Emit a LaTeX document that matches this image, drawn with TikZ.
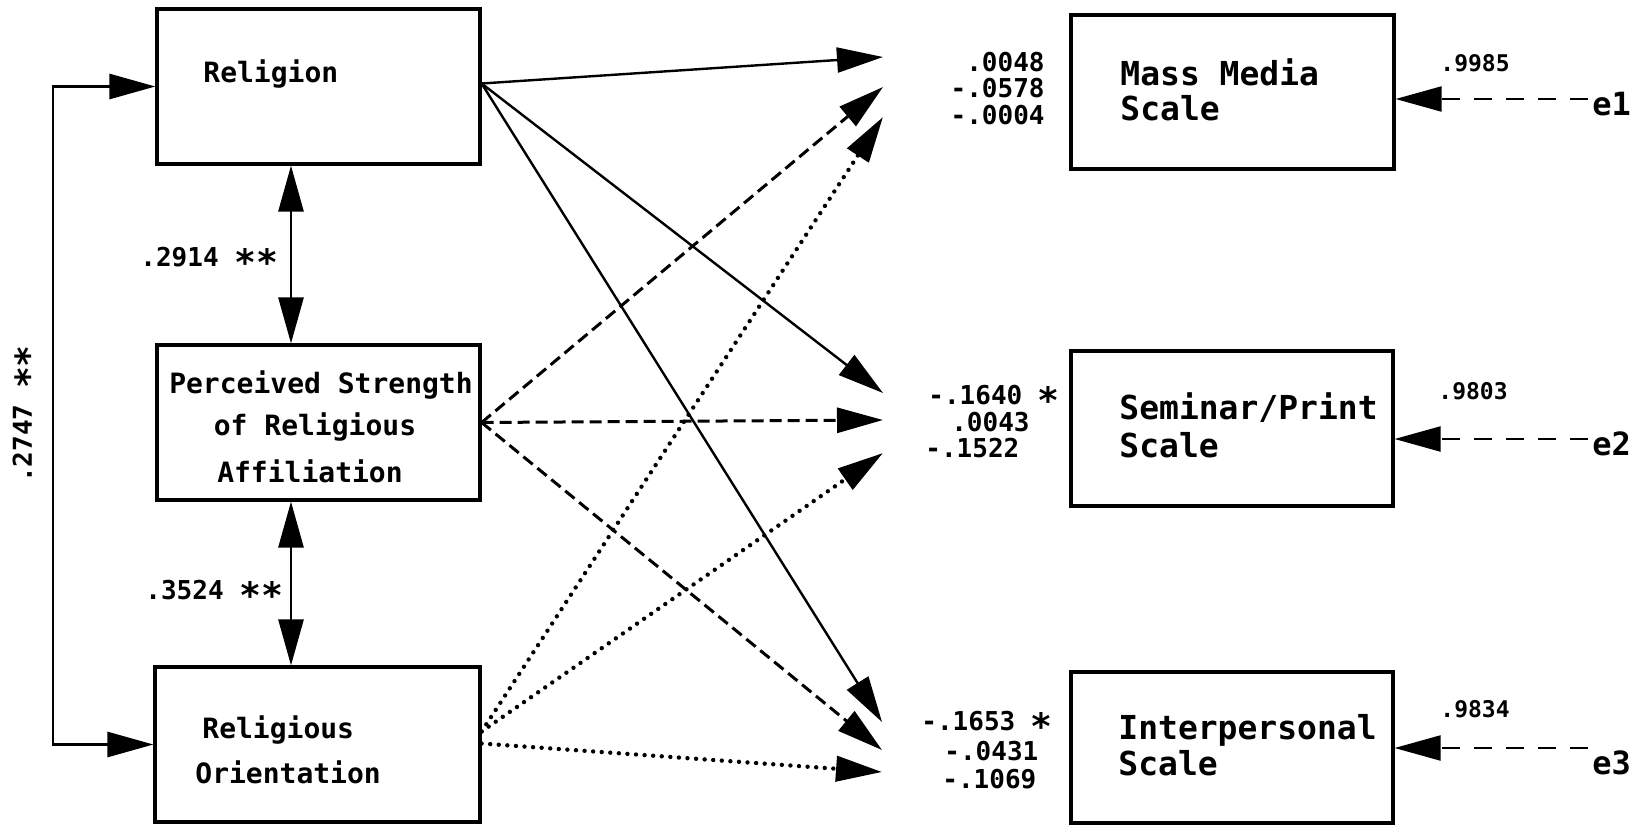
\documentclass[tikz,border=0pt]{standalone}
\usepackage{fontspec}
\usepackage{graphicx}
\newfontfamily\plotfont{DejaVu Sans Mono}
\newcommand{\sig}{\raisebox{-0.36em}{\scalebox{1.4}{*}}}
\usetikzlibrary{arrows.meta,calc}
\tikzset{
  >={Triangle[length=23pt,width=12.5pt]},
  box/.style={draw, line width=1.6pt, inner sep=0pt, minimum width=161.5pt, minimum height=77.5pt},
  boxtxt/.style={inner sep=0pt, font=\plotfont\bfseries\fontsize{14pt}{16pt}\selectfont},
  scaletxt/.style={inner sep=0pt, font=\plotfont\bfseries\fontsize{16.5pt}{18pt}\selectfont},
  coef/.style={inner sep=0pt, font=\plotfont\bfseries\fontsize{13pt}{15pt}\selectfont},
  resid/.style={inner sep=0pt, font=\plotfont\bfseries\fontsize{11.5pt}{13pt}\selectfont},
  errname/.style={inner sep=0pt, font=\plotfont\bfseries\fontsize{16pt}{18pt}\selectfont},
  effsolid/.style={line width=1.2pt, ->},
  effdash/.style={line width=1.5pt, dash pattern=on 6pt off 3pt, ->},
  effdot/.style={line width=2.2pt, line cap=round, dash pattern=on 0pt off 4.3pt, ->},
  corr/.style={line width=1.4pt, <->},
  errpath/.style={line width=1.1pt, dash pattern=on 9pt off 7pt, ->},
}
\begin{document}
\begin{tikzpicture}[x=0.5pt,y=-0.5pt]
\fill[white] (0,0) rectangle (1635,825);
\useasboundingbox (0,0) rectangle (1635,825);

% predictor boxes
\node[box] (rel)  at (318.5,86.5) {};
\node[box] (psra) at (318.5,422.5) {};
\node[box, minimum width=162.5pt] (ro) at (317.5,744.5) {};

\node[boxtxt, anchor=base west] (reltxt) at (203,82) {Religion};
\node[boxtxt, anchor=base] (psra1) at (321,393) {Perceived Strength};
\node[boxtxt, anchor=base] (psra2) at (315,435) {of Religious};
\node[boxtxt, anchor=base] (psra3) at (310,482) {Affiliation};
\node[boxtxt, anchor=base west] (ro1) at (202,738) {Religious};
\node[boxtxt, anchor=base west] (ro2) at (195,783) {Orientation};

% outcome boxes
\node[box, minimum height=77pt] (mm) at (1232.5,92) {};
\node[box, minimum width=161pt] (sp) at (1232,428.5) {};
\node[box, minimum width=161pt, minimum height=75.5pt] (ip) at (1232,747.5) {};

\node[scaletxt, anchor=base west] (mm1t) at (1120,85) {Mass Media};
\node[scaletxt, anchor=base west] (mm2t) at (1120,120) {Scale};
\node[scaletxt, anchor=base west] (sp1t) at (1119,419) {Seminar/Print};
\node[scaletxt, anchor=base west] (sp2t) at (1119,457) {Scale};
\node[scaletxt, anchor=base west] (ip1t) at (1118,739) {Interpersonal};
\node[scaletxt, anchor=base west] (ip2t) at (1118,775) {Scale};

% correlations among predictors
\coordinate (ax) at (291,0);
\coordinate (lx) at (53,400);
\draw[corr] (rel.south -| ax) -- (psra.north -| ax);
\draw[corr] (psra.south -| ax) -- (ro.north -| ax);
\draw[corr] (rel.west) -| (lx) |- (ro.west);
\node[coef, anchor=base west] (c12) at (140,266.5) {.2914 \sig\sig};
\node[coef, anchor=base west] (c23) at (145,599.5) {.3524 \sig\sig};
\node[coef, rotate=90] (c13) at (27,414) {.2747 \sig\sig};

% arrow ends in front of each outcome
\coordinate (mmA) at (883,57);
\coordinate (mmB) at (883,87);
\coordinate (mmC) at (883,117);
\coordinate (spA) at (883,393);
\coordinate (spB) at (883,420);
\coordinate (spC) at (883,453);
\coordinate (ipA) at (882,722);
\coordinate (ipB) at (882,750);
\coordinate (ipC) at (882,772);
\coordinate (roup) at ($(ro.east)+(0,-13)$);

% paths from Religion
\draw[effsolid] ($(rel.east)+(0,-3)$) -- (mmA);
\draw[effsolid] ($(rel.east)+(0,-3)$) -- (spA);
\draw[effsolid] ($(rel.east)+(0,-3)$) -- (ipA);
% paths from Perceived Strength of Religious Affiliation
\draw[effdash] (psra.east) -- (mmB);
\draw[effdash] (psra.east) -- (spB);
\draw[effdash] (psra.east) -- (ipB);
% paths from Religious Orientation
\draw[effdot] (roup) -- (mmC);
\draw[effdot] (roup) -- (spC);
\draw[effdot] ($(ro.east)+(0,-1)$) -- (ipC);

% path coefficients
\node[coef, anchor=base east] (n1) at (1045,71.5) {.0048};
\node[coef, anchor=base east] (n2) at (1045,97.5) {-.0578};
\node[coef, anchor=base east] (n3) at (1045,124.5) {-.0004};
\node[coef, anchor=base west] (n4) at (928,404.5) {-.1640 \sig};
\node[coef, anchor=base east] (n5) at (1030,431.5) {.0043};
\node[coef, anchor=base west] (n6) at (925,457.5) {-.1522};
\node[coef, anchor=base west] (n7) at (921,730.5) {-.1653 \sig};
\node[coef, anchor=base west] (n8) at (944,760.5) {-.0431};
\node[coef, anchor=base west] (n9) at (942,788.5) {-.1069};

% residual terms
\node[resid, anchor=base west] (r1) at (1440,71.4) {.9985};
\node[resid, anchor=base west] (r2) at (1438,399.4) {.9803};
\node[resid, anchor=base west] (r3) at (1440,717.4) {.9834};
\node[errname, anchor=base west] (e1) at (1592,115) {e1};
\node[errname, anchor=base west] (e2) at (1592,455) {e2};
\node[errname, anchor=base west] (e3) at (1592,774) {e3};
\coordinate (t1) at (1588,99);
\coordinate (t2) at (1588,439);
\coordinate (t3) at (1588,748);
\draw[errpath] (t1) -- (mm.east |- t1);
\draw[errpath] (t2) -- (sp.east |- t2);
\draw[errpath] (t3) -- (ip.east |- t3);
\end{tikzpicture}
\end{document}
